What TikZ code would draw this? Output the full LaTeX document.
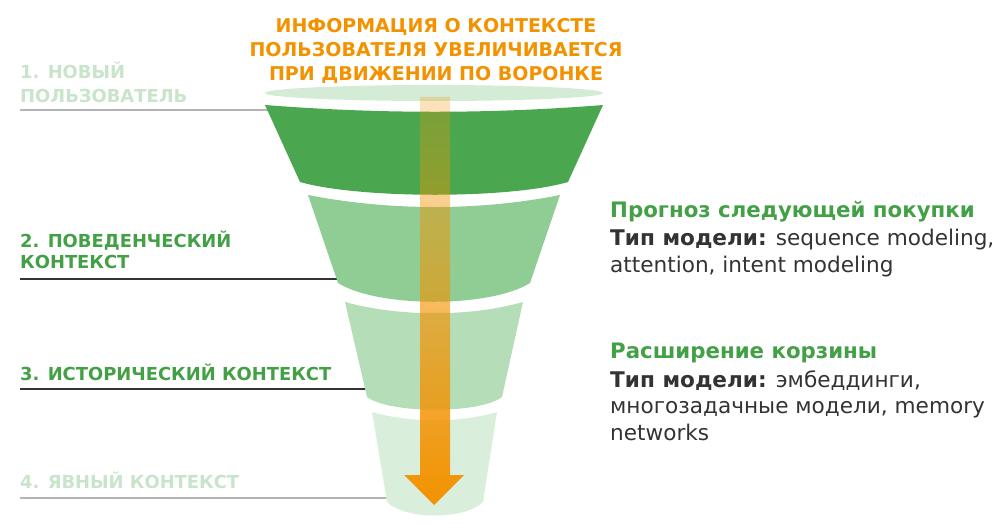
\documentclass[tikz,border=0pt]{standalone}
\usepackage{fontspec}
\setmainfont{DejaVu Sans}
\usetikzlibrary{fadings}
\definecolor{ttl}{RGB}{243,146,0}
\definecolor{gtxt}{RGB}{67,160,71}
\definecolor{lgtxt}{RGB}{200,228,203}
\definecolor{dtxt}{RGB}{51,51,51}
\definecolor{gline}{RGB}{180,180,180}
\definecolor{segA}{RGB}{74,167,80}
\definecolor{segB}{RGB}{143,205,148}
\definecolor{segC}{RGB}{181,221,184}
\definecolor{segD}{RGB}{218,238,220}
\definecolor{ell}{RGB}{212,235,214}
\tikzfading[name=arrowfade, top color=transparent!75, bottom color=transparent!0]
\tikzset{
  ttlstyle/.style={text=ttl, font=\bfseries\fontsize{19}{23}\selectfont, anchor=base, inner sep=0pt},
  lab/.style={font=\bfseries\fontsize{17.9}{21}\selectfont, anchor=base west, inner sep=0pt},
  rhead/.style={text=gtxt, font=\bfseries\fontsize{21.3}{27}\selectfont, anchor=base west, inner sep=0pt},
  rtxt/.style={text=dtxt, font=\fontsize{21.6}{27}\selectfont, anchor=base west, inner sep=0pt},
  darkline/.style={draw=dtxt, line width=2pt},
  lightline/.style={draw=gline, line width=2pt}
}
\begin{document}
\begin{tikzpicture}[x=1pt,y=-1pt]
\useasboundingbox (0,0) rectangle (1008,523);
% title
\node[ttlstyle] (t1) at (436,32) {ИНФОРМАЦИЯ О КОНТЕКСТЕ};
\node[ttlstyle] (t2) at (436,56) {ПОЛЬЗОВАТЕЛЯ УВЕЛИЧИВАЕТСЯ};
\node[ttlstyle] (t3) at (436,80) {ПРИ ДВИЖЕНИИ ПО ВОРОНКЕ};
% left labels
\node[lab, text=lgtxt] (l1a) at (20,78) {1. НОВЫЙ};
\node[lab, text=lgtxt] (l1b) at (20,102) {ПОЛЬЗОВАТЕЛЬ};
\node[lab, text=gtxt] (l2a) at (20,247) {2. ПОВЕДЕНЧЕСКИЙ};
\node[lab, text=gtxt] (l2b) at (20,268) {КОНТЕКСТ};
\node[lab, text=gtxt] (l3) at (20,380) {3. ИСТОРИЧЕСКИЙ КОНТЕКСТ};
\node[lab, text=lgtxt] (l4) at (20,488) {4. ЯВНЫЙ КОНТЕКСТ};
% leader lines
\coordinate (a1) at (20,110); \coordinate (b1) at (268,110);
\coordinate (a2) at (20,279); \coordinate (b2) at (338,279);
\coordinate (a3) at (20,389); \coordinate (b3) at (367,389);
\coordinate (a4) at (20,498); \coordinate (b4) at (387,498);
\draw[lightline] (a1) -- (b1);
\draw[darkline] (a2) -- (b2);
\draw[darkline] (a3) -- (b3);
\draw[lightline] (a4) -- (b4);
% funnel
\fill[ell] (434,93) ellipse [x radius=169, y radius=8];
\fill[segA] (265,105) .. controls (380,114) and (490,114) .. (603,105)
  -- (568,182) .. controls (510,199) and (360,199) .. (300,182) -- cycle;
\fill[segB] (308,195) .. controls (390,211) and (480,211) .. (560,195)
  -- (530,283) .. controls (490,308) and (378,308) .. (338,283) -- cycle;
\fill[segC] (345,302) .. controls (400,317) and (470,317) .. (523,302)
  -- (502,397) .. controls (480,414) and (390,414) .. (367,397) -- cycle;
\fill[segD] (372,412) .. controls (410,423) and (460,423) .. (497,412)
  -- (483,502) .. controls (465,520) and (405,520) .. (387,502) -- cycle;
% arrow
\fill[ttl, path fading=arrowfade] (420,97) -- (450,97) -- (450,475) -- (464,475)
  -- (434,505) -- (404,475) -- (420,475) -- cycle;
% right texts
\node[rhead] (r1) at (610,217) {Прогноз следующей покупки};
\node[rtxt] (r2) at (610,245) {\textbf{Тип модели:} sequence modeling,};
\node[rtxt] (r3) at (610,272) {attention, intent modeling};
\node[rhead] (r4) at (610,358) {Расширение корзины};
\node[rtxt] (r5) at (610,387) {\textbf{Тип модели:} эмбеддинги,};
\node[rtxt] (r6) at (610,413) {многозадачные модели, memory};
\node[rtxt] (r7) at (610,440) {networks};
\end{tikzpicture}
\end{document}
